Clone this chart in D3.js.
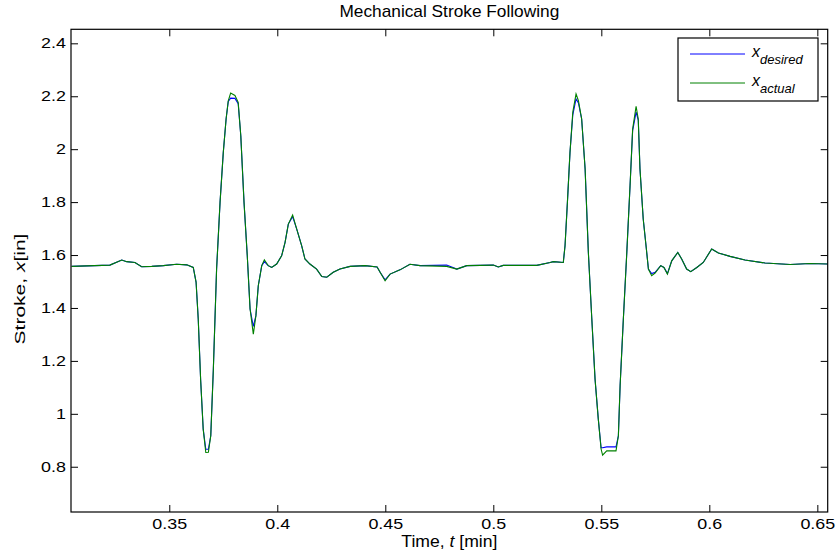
<!DOCTYPE html>
<html><head><meta charset="utf-8">
<script src="https://cdn.jsdelivr.net/npm/d3@7"></script>
<style>body{margin:0;background:#fff}text{font-family:"Liberation Sans",Arial,sans-serif;fill:#000}</style>
</head><body><svg id="c" width="838" height="559"></svg>
<script>
const time = [0.3048,0.3225,0.3280,0.3303,0.3341,0.3372,0.3419,0.3472,0.3534,0.3581,0.3611,0.3624,0.3634,0.3645,0.3657,0.3669,0.3681,0.3692,0.3704,0.3719,0.3735,0.3750,0.3763,0.3773,0.3784,0.3804,0.3819,0.3831,0.3846,0.3861,0.3874,0.3889,0.3901,0.3912,0.3928,0.3940,0.3958,0.3974,0.3997,0.4020,0.4036,0.4051,0.4071,0.4090,0.4113,0.4128,0.4151,0.4182,0.4206,0.4229,0.4259,0.4290,0.4337,0.4406,0.4462,0.4476,0.4499,0.4522,0.4568,0.4614,0.4661,0.4784,0.4831,0.4877,0.5000,0.5023,0.5046,0.5201,0.5263,0.5278,0.5324,0.5332,0.5343,0.5355,0.5368,0.5383,0.5394,0.5409,0.5425,0.5440,0.5456,0.5471,0.5486,0.5499,0.5506,0.5525,0.5568,0.5579,0.5587,0.5602,0.5618,0.5633,0.5645,0.5661,0.5671,0.5679,0.5694,0.5707,0.5718,0.5733,0.5749,0.5775,0.5790,0.5806,0.5826,0.5854,0.5872,0.5895,0.5914,0.5942,0.5972,0.6011,0.6042,0.6096,0.6165,0.6258,0.6374,0.6466,0.6548];
const actual = [1.557,1.562,1.581,1.575,1.572,1.556,1.557,1.560,1.565,1.563,1.553,1.498,1.358,1.131,0.942,0.854,0.855,0.917,1.169,1.547,1.799,1.988,2.114,2.183,2.212,2.203,2.177,2.051,1.799,1.597,1.396,1.301,1.371,1.484,1.560,1.582,1.560,1.553,1.566,1.597,1.648,1.717,1.751,1.698,1.635,1.585,1.566,1.547,1.519,1.516,1.535,1.547,1.557,1.560,1.555,1.535,1.503,1.528,1.544,1.565,1.560,1.557,1.547,1.560,1.562,1.555,1.561,1.561,1.572,1.575,1.572,1.635,1.799,1.988,2.140,2.209,2.183,2.114,1.925,1.610,1.358,1.131,0.980,0.867,0.844,0.860,0.860,0.917,1.106,1.358,1.610,1.862,2.076,2.162,2.114,1.925,1.736,1.635,1.547,1.522,1.532,1.560,1.553,1.528,1.578,1.610,1.585,1.547,1.537,1.553,1.572,1.623,1.608,1.595,1.581,1.570,1.564,1.568,1.566];
const desired = [1.557,1.562,1.581,1.575,1.572,1.556,1.557,1.560,1.565,1.563,1.553,1.498,1.358,1.131,0.942,0.866,0.866,0.917,1.169,1.547,1.799,1.988,2.114,2.180,2.193,2.192,2.172,2.051,1.799,1.597,1.396,1.330,1.371,1.484,1.560,1.575,1.560,1.553,1.566,1.597,1.648,1.717,1.745,1.698,1.635,1.585,1.566,1.547,1.519,1.516,1.535,1.547,1.557,1.560,1.555,1.535,1.506,1.528,1.544,1.565,1.560,1.562,1.547,1.560,1.562,1.555,1.561,1.561,1.572,1.575,1.572,1.635,1.799,1.988,2.130,2.190,2.175,2.114,1.925,1.610,1.358,1.131,0.980,0.872,0.872,0.875,0.875,0.917,1.106,1.358,1.610,1.862,2.070,2.140,2.110,1.925,1.736,1.635,1.547,1.530,1.535,1.560,1.553,1.530,1.578,1.610,1.585,1.547,1.537,1.553,1.572,1.623,1.608,1.595,1.581,1.570,1.564,1.568,1.566];
const xTicks = [0.35,0.4,0.45,0.5,0.55,0.6,0.65];
const xTickLabels = ["0.35","0.4","0.45","0.5","0.55","0.6","0.65"];
const yTicks = [0.8,1,1.2,1.4,1.6,1.8,2,2.2,2.4];
const yTickLabels = ["0.8","1","1.2","1.4","1.6","1.8","2","2.2","2.4"];
const seriesNames = ["desired","actual"];
const seriesColors = ["#0000ff","#008000"];

const svg = d3.select("#c");
const L=71, R=827.7, T=29.3, B=512;
const x = d3.scaleLinear().domain([0.3045,0.6548]).range([L,R]);
const y = d3.scaleLinear().domain([0.629,2.453]).range([B,T]);

const line = d3.line().x((d,i)=>x(time[i])).y(d=>y(d));
const plot = svg.append("g");
plot.append("path").attr("d",line(desired)).attr("fill","none").attr("stroke",seriesColors[0]).attr("stroke-width",1.1);
plot.append("path").attr("d",line(actual)).attr("fill","none").attr("stroke",seriesColors[1]).attr("stroke-width",1.1);

const ax = svg.append("g");
ax.append("g").attr("transform",`translate(0,${B})`)
  .call(d3.axisBottom(x).tickValues(xTicks).tickFormat((d,i)=>xTickLabels[i]).tickSizeInner(-7).tickSizeOuter(0).tickPadding(7));
ax.append("g").attr("transform",`translate(0,${T})`)
  .call(d3.axisTop(x).tickValues(xTicks).tickFormat("").tickSizeInner(-7).tickSizeOuter(0));
ax.append("g").attr("transform",`translate(${L},0)`)
  .call(d3.axisLeft(y).tickValues(yTicks).tickFormat((d,i)=>yTickLabels[i]).tickSizeInner(-7).tickSizeOuter(0).tickPadding(4));
ax.append("g").attr("transform",`translate(${R},0)`)
  .call(d3.axisRight(y).tickValues(yTicks).tickFormat("").tickSizeInner(-7).tickSizeOuter(0));
ax.selectAll(".domain").remove();
ax.selectAll("text").style("font-size","14px").attr("fill","#000").attr("transform","scale(1.28,1)");
ax.selectAll("line").attr("stroke","#000");
svg.append("rect").attr("x",L).attr("y",T).attr("width",R-L).attr("height",B-T)
  .attr("fill","none").attr("stroke","#000").attr("stroke-width",1.2);

// title & labels
svg.append("text").attr("transform",`translate(${(L+R)/2},17) scale(1.08,1)`).attr("text-anchor","middle").style("font-size","16px").text("Mechanical Stroke Following");
const xl = svg.append("text").attr("transform",`translate(${(L+R)/2},547) scale(1.1,1)`).attr("text-anchor","middle").style("font-size","16px");
xl.append("tspan").text("Time, ");
xl.append("tspan").style("font-style","italic").text("t");
xl.append("tspan").text(" [min]");
const yl = svg.append("text").attr("transform",`translate(25,289) rotate(-90) scale(1.4,1)`).attr("text-anchor","middle").style("font-size","15px");
yl.append("tspan").text("Stroke, ");
yl.append("tspan").style("font-style","italic").text("x");
yl.append("tspan").text("[in]");

// legend
const lg = svg.append("g");
lg.append("rect").attr("x",678).attr("y",38).attr("width",140).attr("height",63).attr("fill","#fff").attr("stroke","#000").attr("stroke-width",1.2);
seriesNames.forEach((n,i)=>{
  const yy = 54 + i*29;
  lg.append("line").attr("x1",690).attr("x2",745).attr("y1",yy).attr("y2",yy).attr("stroke",seriesColors[i]).attr("stroke-width",1);
  const t = lg.append("text").attr("x",752).attr("y",yy+3).style("font-size","16px").style("font-style","italic");
  t.append("tspan").text("x");
  t.append("tspan").attr("dy",7).style("font-size","13px").text(n);
});
</script></body></html>
